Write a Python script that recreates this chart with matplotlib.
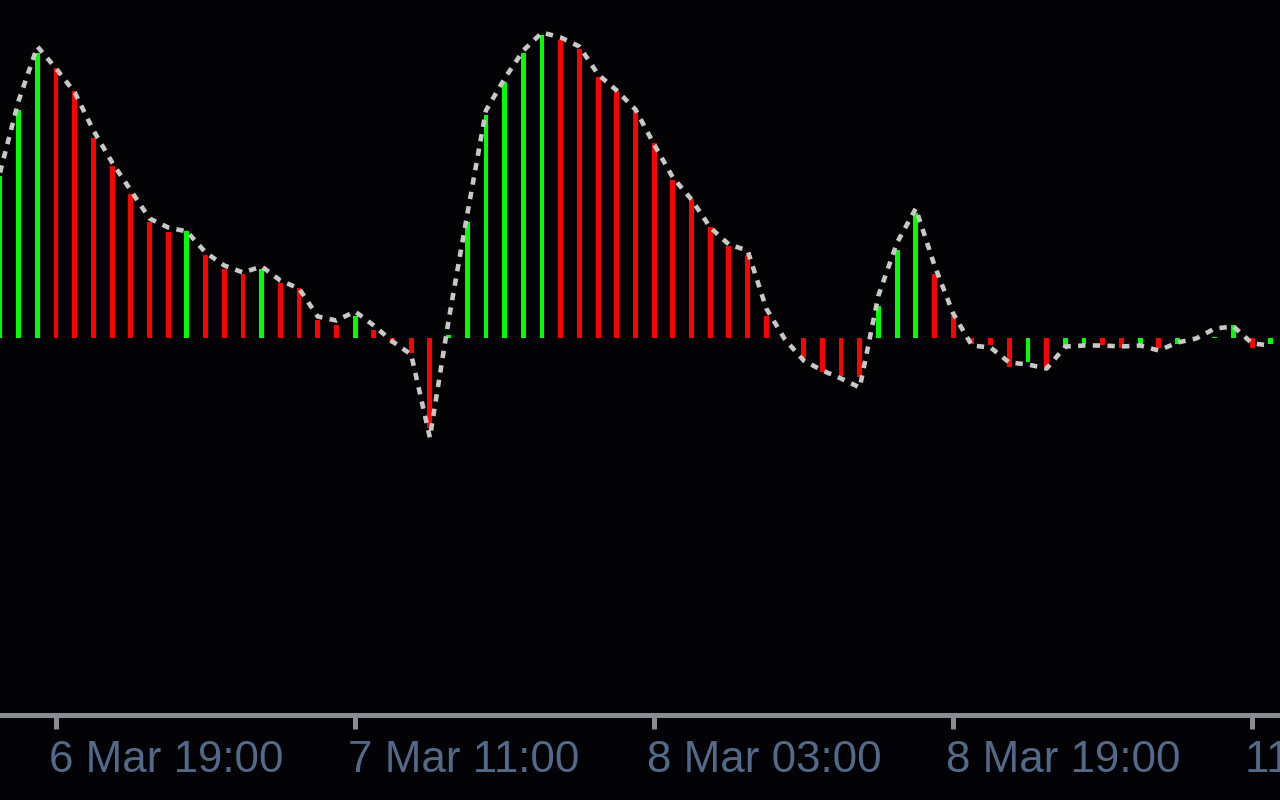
import matplotlib
matplotlib.use("Agg")

import matplotlib.pyplot as plt
import numpy as np
from matplotlib.transforms import ScaledTranslation

# histogram (oscillator) values, one per hourly bar
hist = [162, 228, 285, 270, 247, 200, 172, 144, 116, 106,
        107, 83, 69, 64, 69, 55, 50, 18, 13, 22,
        8, -6, -15, -90, 3, 116, 223, 256, 285, 303,
        298, 289, 261, 247, 228, 195, 158, 139, 111, 92,
        83, 22, -1, -20, -34, -38, -39, 32, 88, 125,
        64, 22, -6, -7, -29, -24, -29, -10, -6, -7,
        -10, -6, -10, -6, -2, 1, 13, -10, -6]

# dotted signal line
signal = [165, 237, 291, 269, 245, 207, 175, 147, 119, 110,
          106, 85, 72, 65, 71, 57, 49, 21, 17, 26,
          12, -4, -17, -100, 17, 123, 227, 259, 287, 305,
          300, 291, 263, 247, 228, 193, 160, 138, 110, 93,
          87, 29, -2, -23, -33, -41, -50, 42, 95, 129,
          72, 24, -8, -10, -25, -27, -31, -9, -8, -8,
          -9, -8, -13, -5, -1, 9, 11, -6, -8]

tick_bars = [3, 19, 35, 51, 67]
tick_labels = ["6 Mar 19:00", "7 Mar 11:00", "8 Mar 03:00", "8 Mar 19:00", "11 Mar 11:00"]

BG = "#030305"
AXIS = "#8a8c94"
TEXT = "#52698a"

hist = np.array(hist, dtype=float)
signal = np.array(signal, dtype=float)
x = np.arange(len(hist))

# green when rising, red when falling
prev = np.concatenate([[hist[0] - 1], hist[:-1]])
colors = np.where(hist > prev, "#00ff00", "#ff0000")

fig = plt.figure(figsize=(12.8, 8), dpi=100, facecolor=BG)
ax = fig.add_axes([0, 85.5 / 800, 1, 714.5 / 800])
ax.set_facecolor(BG)

ax.bar(x, hist, width=0.26, color=colors, zorder=2)
ax.plot(x, signal, color="#c8c8c8", lw=3.3, ls=(0, (1.6, 1.6)),
        solid_capstyle="butt", dash_capstyle="butt", zorder=3)

ax.set_xlim(0, 1280 / 18.69)
ax.set_ylim(337.5 - 714.5, 337.5)

for s in ["top", "left", "right"]:
    ax.spines[s].set_visible(False)
ax.spines["bottom"].set_color(AXIS)
ax.spines["bottom"].set_linewidth(3.6)

ax.set_yticks([])
ax.set_xticks(tick_bars)
ax.set_xticklabels(tick_labels, family="Liberation Sans", fontsize=31.6, color=TEXT)
ax.tick_params(axis="x", direction="out", length=10, width=3.6, color=AXIS, pad=8)

shift = ScaledTranslation(-7 / 100, 0, fig.dpi_scale_trans)
for lab in ax.get_xticklabels():
    lab.set_horizontalalignment("left")
    lab.set_transform(lab.get_transform() + shift)

fig.savefig("out.png", dpi=100, facecolor=BG)
